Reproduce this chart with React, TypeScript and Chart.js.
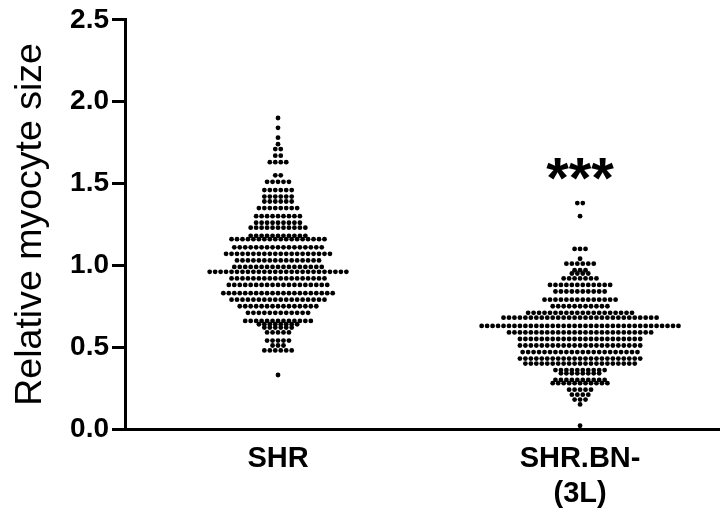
import React, { useEffect, useRef } from "react";
import { Chart, registerables } from "chart.js";
Chart.register(...registerables);

// Category (group) labels
const groupNames = ["SHR", "SHR.BN-(3L)"];
const groupTickLabels: string[][] = [["SHR"], ["SHR.BN-", "(3L)"]];

// Y axis ticks
const yTickValues = [0, 0.5, 1.0, 1.5, 2.0, 2.5];
const yTitle = "Relative myocyte size";

// Beeswarm rows: relative myocyte size value of each row and number of cells at that value
const shrRowValues = [1.9, 1.84, 1.78, 1.74, 1.71, 1.67, 1.63, 1.55, 1.51, 1.46, 1.42, 1.39, 1.35, 1.3, 1.26, 1.23, 1.18, 1.16, 1.11, 1.07, 1.03, 0.99, 0.96, 0.92, 0.88, 0.83, 0.79, 0.75, 0.71, 0.66, 0.64, 0.62, 0.59, 0.54, 0.51, 0.48, 0.33];
const shrRowCounts = [1, 1, 1, 1, 2, 2, 4, 2, 5, 6, 6, 6, 8, 9, 9, 11, 11, 18, 17, 20, 16, 17, 26, 18, 19, 21, 18, 15, 12, 13, 8, 6, 5, 5, 3, 6, 1];

const bnRowValues = [1.38, 1.3, 1.1, 1.04, 1.01, 0.97, 0.95, 0.92, 0.88, 0.84, 0.79, 0.75, 0.71, 0.68, 0.63, 0.59, 0.55, 0.51, 0.47, 0.43, 0.4, 0.36, 0.34, 0.3, 0.28, 0.24, 0.21, 0.18, 0.15, 0.02];
const bnRowCounts = [2, 1, 3, 1, 6, 3, 4, 7, 12, 10, 14, 11, 20, 29, 37, 27, 23, 23, 22, 23, 21, 10, 8, 10, 11, 5, 4, 3, 1, 1];

// Significance marker above the second group
const significanceText = "***";
const significanceValue = 1.59;

const DOT_STEP = 0.0181; // horizontal step between neighbouring dots (x units)

function swarm(groupIndex: number, values: number[], counts: number[]) {
  const pts: { x: number; y: number }[] = [];
  const cx = groupIndex + 1;
  values.forEach((v, r) => {
    const n = counts[r];
    for (let i = 0; i < n; i++) {
      pts.push({ x: cx + (i - (n - 1) / 2) * DOT_STEP, y: v });
    }
  });
  return pts;
}

const significancePlugin = {
  id: "significance",
  afterDatasetsDraw(chart: any) {
    const { ctx, scales } = chart;
    const x = scales.x.getPixelForValue(2);
    const y = scales.y.getPixelForValue(significanceValue);
    ctx.save();
    ctx.font = "bold 58px Arial, 'Liberation Sans', sans-serif";
    ctx.fillStyle = "#000";
    ctx.textAlign = "center";
    ctx.textBaseline = "alphabetic";
    const m = ctx.measureText(significanceText);
    const mid = (m.actualBoundingBoxAscent - m.actualBoundingBoxDescent) / 2;
    ctx.fillText(significanceText, x, y + mid);
    ctx.restore();
  },
};

export default function App() {
  const ref = useRef<HTMLCanvasElement | null>(null);
  useEffect(() => {
    if (!ref.current) return;
    const chart = new Chart(ref.current, {
      type: "scatter",
      data: {
        datasets: [
          {
            label: groupNames[0],
            data: swarm(0, shrRowValues, shrRowCounts),
            backgroundColor: "#000",
            borderWidth: 0,
            pointRadius: 2.4,
          },
          {
            label: groupNames[1],
            data: swarm(1, bnRowValues, bnRowCounts),
            backgroundColor: "#000",
            borderWidth: 0,
            pointRadius: 2.4,
          },
        ],
      },
      options: {
        animation: false,
        responsive: false,
        maintainAspectRatio: false,
        layout: { padding: { top: 19, right: 0, left: 0, bottom: 0 } },
        plugins: { legend: { display: false }, tooltip: { enabled: false } },
        scales: {
          x: {
            type: "linear",
            min: 0.4934,
            max: 2.46,
            afterBuildTicks: (scale: any) => {
              scale.ticks = [{ value: 1 }, { value: 2 }];
            },
            afterFit: (scale: any) => {
              scale.height = 86;
            },
            border: { display: true, color: "#000", width: 3 },
            grid: { display: false, drawTicks: false },
            ticks: {
              padding: 13,
              color: "#000",
              maxRotation: 0,
              autoSkip: false,
              font: { family: "Arial, 'Liberation Sans', sans-serif", size: 29, weight: "bold" },
              callback: (v: any) => groupTickLabels[Math.round(Number(v)) - 1] || "",
            },
          },
          y: {
            type: "linear",
            min: 0,
            max: 2.5,
            afterBuildTicks: (scale: any) => {
              scale.ticks = yTickValues.map((v) => ({ value: v }));
            },
            afterFit: (scale: any) => {
              scale.width = 125;
            },
            border: { display: true, color: "#000", width: 3 },
            grid: { drawOnChartArea: false, drawTicks: true, tickLength: 13, tickWidth: 3, tickColor: "#000" },
            ticks: {
              padding: 3,
              color: "#000",
              font: { family: "Arial, 'Liberation Sans', sans-serif", size: 28, weight: "bold" },
              callback: (v: any) => Number(v).toFixed(1),
            },
            title: {
              display: true,
              text: yTitle,
              color: "#000",
              padding: { top: 8, bottom: 0 },
              font: { family: "Arial, 'Liberation Sans', sans-serif", size: 37.5, weight: "normal" },
            },
          },
        },
      },
      plugins: [significancePlugin],
    });
    return () => chart.destroy();
  }, []);
  return (
    <div style={{ position: "fixed", left: 0, top: 0, width: 723, height: 515, background: "#fff" }}>
      <canvas ref={ref} width={723} height={515} style={{ display: "block", width: 723, height: 515 }} />
    </div>
  );
}
